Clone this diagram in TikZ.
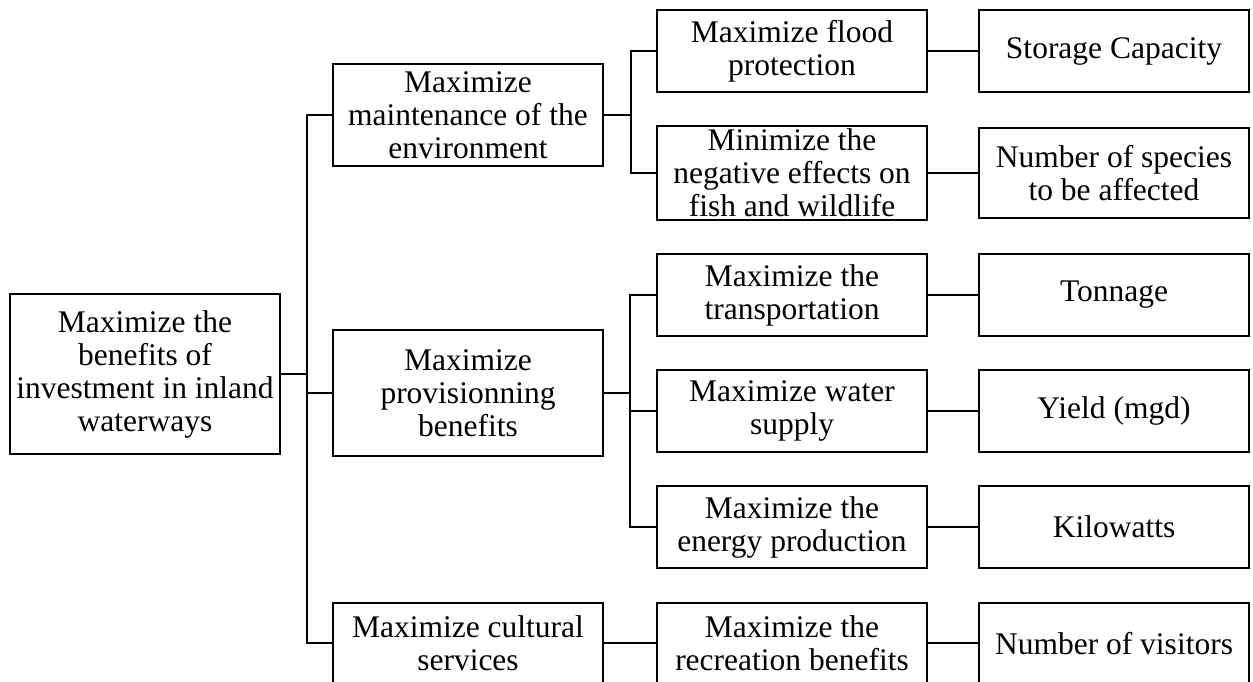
\documentclass[tikz,border=0pt]{standalone}
\usepackage{fontspec}
\setmainfont{Liberation Serif}
\begin{document}
\begin{tikzpicture}[x=1pt,y=-1pt,
  box/.style={draw,line width=2.2pt,minimum width=270pt,align=center,inner sep=0pt,
    font=\fontsize{31.5}{33}\selectfont},
  conn/.style={line width=2.2pt}]
\useasboundingbox (0,0) rectangle (1253,681);
% level 0
\node[box,minimum height=160pt] (root) at (145,374) {Maximize the\\benefits of\\investment in inland\\waterways};
% level 1
\node[box,minimum height=102pt] (env) at (468,115) {Maximize\\maintenance of the\\environment};
\node[box,minimum height=126pt] (prov) at (468,393) {Maximize\\provisionning\\benefits};
\node[box,minimum height=80pt,anchor=north] (cult) at (468,602) {Maximize cultural\\services};
% level 2
\node[box,minimum height=82pt] (flood) at (792,51) {Maximize flood\\protection};
\node[box,minimum height=94pt] (neg) at (792,173) {Minimize the\\negative effects on\\fish and wildlife};
\node[box,minimum height=82pt] (trans) at (792,295) {Maximize the\\transportation};
\node[box,minimum height=82pt] (water) at (792,411) {Maximize water\\supply};
\node[box,minimum height=82pt] (energy) at (792,527) {Maximize the\\energy production};
\node[box,minimum height=80pt,anchor=north] (rec) at (792,602) {Maximize the\\recreation benefits};
% level 3
\node[box,minimum height=82pt] (stor) at (1114,51) {Storage Capacity};
\node[box,minimum height=90pt] (spec) at (1114,173) {Number of species\\to be affected};
\node[box,minimum height=82pt] (ton) at (1114,295) {Tonnage};
\node[box,minimum height=82pt] (yield) at (1114,411) {Yield (mgd)};
\node[box,minimum height=82pt] (kw) at (1114,527) {Kilowatts};
\node[box,minimum height=80pt,anchor=north] (vis) at (1114,602) {Number of visitors};
% junctions
\coordinate (j1) at (307,374);
\coordinate (j2) at (631,115);
\coordinate (j3) at (630,393);
% connectors
\draw[conn] (root.east) -- (j1);
\draw[conn] (j1) |- (env.west);
\draw[conn] (j1) |- (prov.west);
\draw[conn] (j1) |- (cult.west);
\draw[conn] (env.east) -- (j2);
\draw[conn] (j2) |- (flood.west);
\draw[conn] (j2) |- (neg.west);
\draw[conn] (prov.east) -- (j3);
\draw[conn] (j3) |- (trans.west);
\draw[conn] (j3) |- (water.west);
\draw[conn] (j3) |- (energy.west);
\draw[conn] (cult.east) -- (rec.west);
\draw[conn] (flood) -- (stor);
\draw[conn] (neg) -- (spec);
\draw[conn] (trans) -- (ton);
\draw[conn] (water) -- (yield);
\draw[conn] (energy) -- (kw);
\draw[conn] (rec) -- (vis);
\end{tikzpicture}
\end{document}
